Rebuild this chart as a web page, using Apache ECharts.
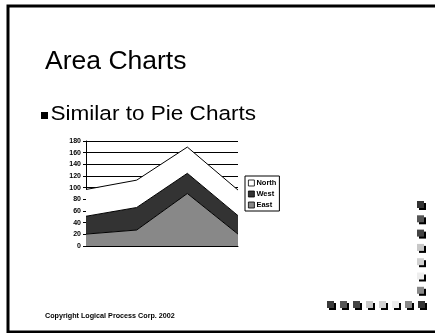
<!DOCTYPE html>
<html>
<head>
<meta charset="utf-8">
<script src="https://cdn.jsdelivr.net/npm/echarts@6/dist/echarts.min.js"></script>
<style>
html,body{margin:0;padding:0;background:#fff;}
#c{width:435px;height:333px;}
</style>
</head>
<body>
<div id="c"></div>
<script>
var categories = ['1', '2', '3', '4'];
var eastValues = [20.4, 27.4, 90, 20.4];
var westValues = [30.6, 38.6, 34.6, 31.6];
var northValues = [45.9, 46.9, 45, 43.9];
var yTicks = [0, 20, 40, 60, 80, 100, 120, 140, 160, 180];

var FONT = '"Liberation Sans", Arial, sans-serif';

var decoColumn = ['#333333', '#555555', '#444444', '#c8c8c8', '#d0d0d0', '#eeeeee', '#888888'];
var decoRow = ['#3a3a3a', '#555555', '#444444', '#c8c8c8', '#d0d0d0', '#eeeeee', '#888888', '#333333'];

var graphics = [];
// slide border
graphics.push({type:'polyline', shape:{points:[[8,340],[8,6],[440,6]]}, style:{stroke:'#000', lineWidth:3, fill:null}, silent:true});
graphics.push({type:'line', shape:{x1:8,y1:332,x2:440,y2:332}, style:{stroke:'#000', lineWidth:3}, silent:true});
// title texts
graphics.push({type:'text', x:45, y:49, scaleX:1.04, style:{text:'Area Charts', font:'25.5px ' + FONT, fill:'#000'}});
graphics.push({type:'rect', shape:{x:41,y:112,width:7,height:7}, style:{fill:'#000'}});
graphics.push({type:'text', x:50.5, y:104, scaleX:1.1, style:{text:'Similar to Pie Charts', font:'20.5px ' + FONT, fill:'#000'}});
graphics.push({type:'text', x:45, y:313, style:{text:'Copyright Logical Process Corp. 2002', font:'bold 7.2px ' + FONT, fill:'#000'}});
// decorative squares
function sq(x, y, c) {
  graphics.push({type:'rect', shape:{x:x+2,y:y+2,width:7,height:7}, style:{fill:'#000'}, silent:true});
  graphics.push({type:'rect', shape:{x:x,y:y,width:7,height:7}, style:{fill:c}, silent:true});
}
for (var i = 0; i < decoColumn.length; i++) sq(417, 201 + i * 14.3, decoColumn[i]);
for (var j = 0; j < decoRow.length; j++) sq(327 + j * 13, 301, decoRow[j]);

var chart = echarts.init(document.getElementById('c'), null, {renderer:'canvas'});
chart.setOption({
  animation:false,
  backgroundColor:'#fff',
  grid:{left:86, top:141, width:152, height:105, containLabel:false},
  legend:{
    orient:'vertical', left:245, top:176,
    data:['North','West','East'],
    itemWidth:6, itemHeight:6, itemGap:3, padding:[3,3,2,3],
    borderColor:'#000', borderWidth:1, icon:'rect',
    itemStyle:{borderColor:'#000', borderWidth:0.8},
    textStyle:{fontFamily:FONT, fontWeight:'bold', fontSize:7.5, color:'#000', padding:[0,0,0,-3]}
  },
  xAxis:{
    type:'category', data:categories, boundaryGap:false,
    axisLine:{lineStyle:{color:'#000', width:1}},
    axisTick:{show:false}, axisLabel:{show:false}, splitLine:{show:false}
  },
  yAxis:{
    type:'value', min:0, max:180, interval:20,
    axisLine:{show:true, lineStyle:{color:'#000', width:1}},
    axisTick:{show:true, length:3, lineStyle:{color:'#000'}},
    axisLabel:{fontFamily:FONT, fontWeight:'bold', fontSize:7, color:'#000', margin:5,
      formatter:function(v){ return yTicks.indexOf(v) >= 0 ? String(v) : ''; }},
    splitLine:{show:true, lineStyle:{color:'#000', width:1}}
  },
  series:[
    {name:'East', type:'line', stack:'s', data:eastValues, symbol:'none',
     lineStyle:{color:'#000', width:1}, itemStyle:{color:'#888888'},
     areaStyle:{color:'#888888', opacity:1}},
    {name:'West', type:'line', stack:'s', data:westValues, symbol:'none',
     lineStyle:{color:'#000', width:1}, itemStyle:{color:'#333333'},
     areaStyle:{color:'#333333', opacity:1}},
    {name:'North', type:'line', stack:'s', data:northValues, symbol:'none',
     lineStyle:{color:'#000', width:1}, itemStyle:{color:'#ffffff'},
     areaStyle:{color:'#ffffff', opacity:1}}
  ],
  graphic:graphics
});
</script>
</body>
</html>
